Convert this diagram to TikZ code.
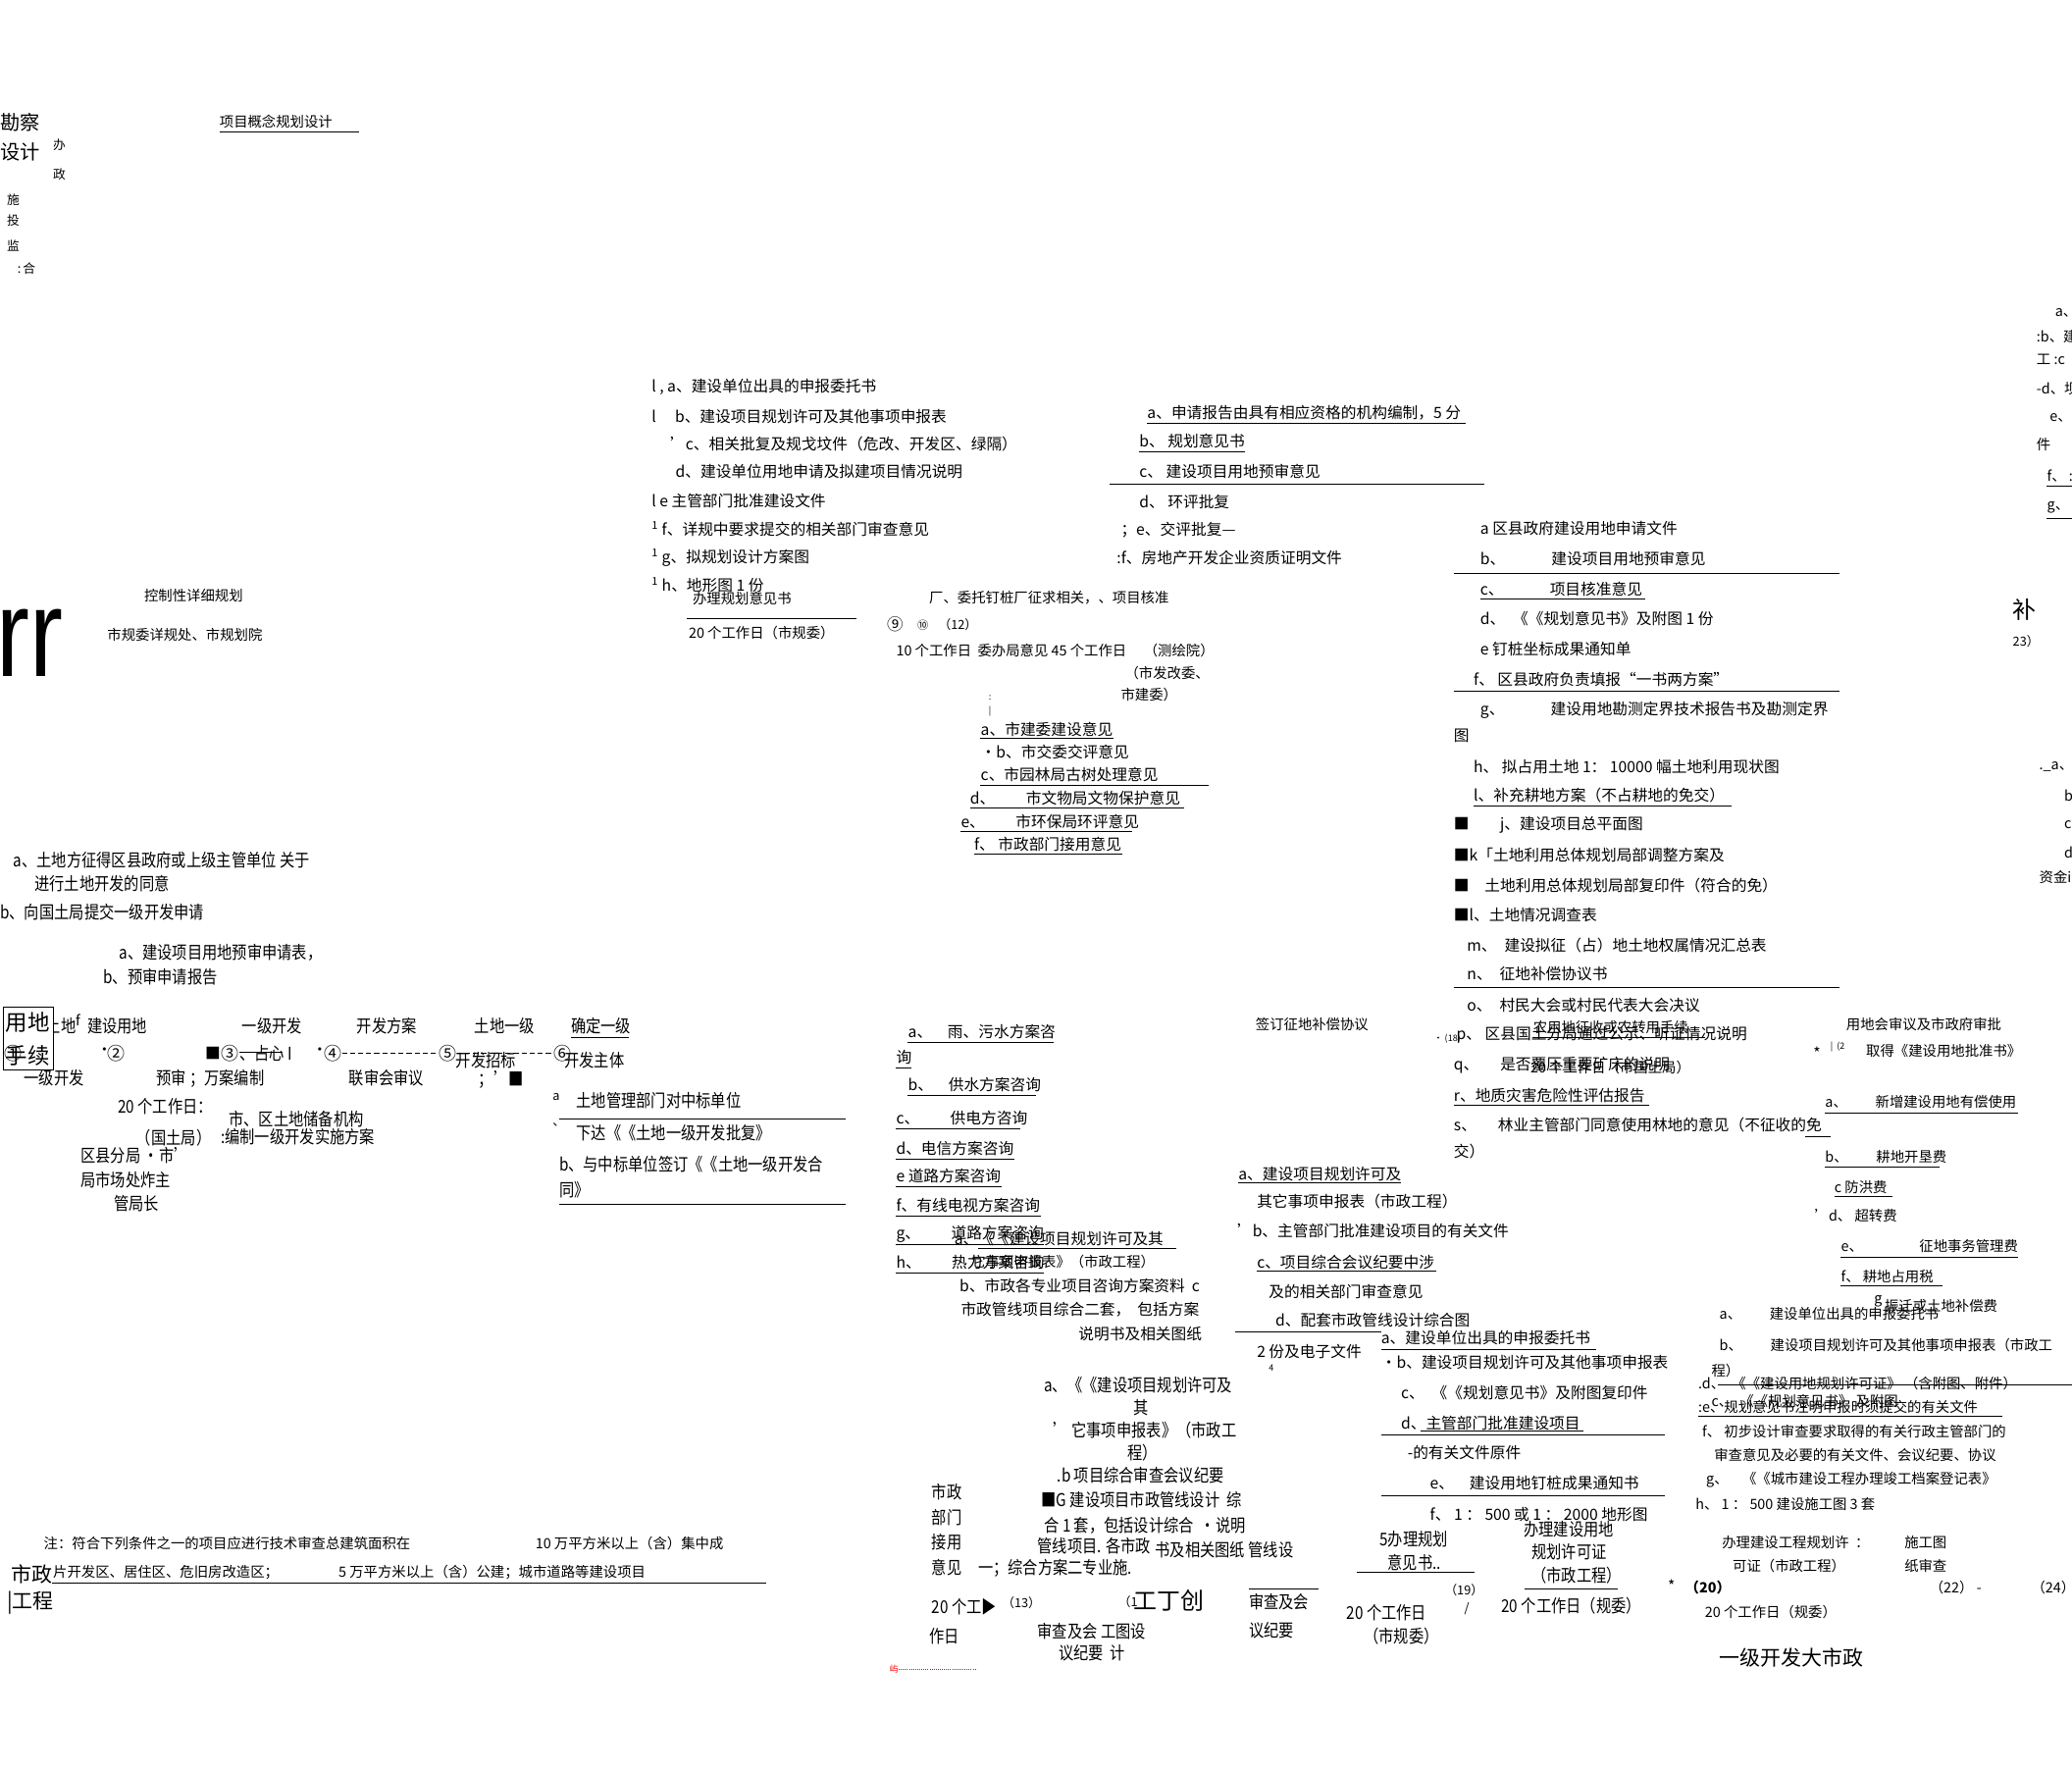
\documentclass[tikz,border=0pt]{standalone}
\usepackage{fontspec}
\setmainfont{Noto Sans CJK SC}
\newfontfamily\latinf{Liberation Sans}
\usetikzlibrary{positioning}

\tikzset{
  txt/.style={anchor=west, inner sep=0pt, font=\fontsize{10.5}{12}\selectfont},
  mid/.style={anchor=west, inner sep=0pt, font=\fontsize{9.6}{11}\selectfont},
  cnd/.style={anchor=west, inner sep=0pt, font=\fontsize{12}{14}\selectfont, xscale=0.85},
  sml/.style={anchor=west, inner sep=0pt, font=\fontsize{8.5}{10}\selectfont},
  tny/.style={anchor=west, inner sep=0pt, font=\fontsize{6}{7}\selectfont},
  big/.style={anchor=west, inner sep=0pt, font=\fontsize{14}{16}\selectfont},
  num/.style={anchor=west, inner sep=0pt, font=\fontsize{12}{14}\selectfont},
  uln/.style={line width=0.6pt},
}

\begin{document}
\begin{tikzpicture}[x=0.9pt, y=-0.9pt]
\useasboundingbox (0,0) rectangle (1568,1339);
\fill[white] (0,0) rectangle (1568,1339);

% 1. 左上角
\node[txt, font=\fontsize{13.5}{15}\selectfont] (kc) at (0,93) {勘察};
\node[txt, font=\fontsize{13.5}{15}\selectfont] (sj) at (0,115) {设计};
\node[sml] (ban) at (40,110) {办};
\node[sml] (zheng) at (40,132) {政};
\node[sml] (shi) at (5,151) {施};
\node[sml] (tou) at (5,167) {投};
\node[sml] (jian) at (5,186) {监};
\node[sml] (he) at (13,203) {:\,合};
\node[mid] (gnsj) at (166,92) {项目概念规划设计};
\draw[uln] (166,100) -- (272,100);

\node[anchor=base west, inner sep=0pt, font=\latinf\fontsize{85}{85}\selectfont, xscale=0.8] (rr) at (-3,512) {rr};
\node[mid] (kzx) at (109,451) {控制性详细规划};
\node[mid] (sgw) at (81,480) {市规委详规处、市规划院};

% 2. 规划意见书
\foreach \x/\y/\t [count=\i] in {
  493/293/{l , a、建设单位出具的申报委托书},
  493/315/{l \quad b、建设项目规划许可及其他事项申报表},
  507/336/{'c、相关批复及规戈坟件（危改、开发区、绿隔）},
  511/357/{d、建设单位用地申请及拟建项目情况说明},
  493/379/{l e 主管部门批准建设文件},
  493/400/{\textsuperscript{1} f、详规中要求提交的相关部门审查意见},
  493/422/{\textsuperscript{1} g、拟规划设计方案图},
  493/443/{\textsuperscript{1} h、地形图 1 份}}
  \node[txt] (gh\i) at (\x,\y) {\t};
\node[mid] (blgh) at (524,453) {办理规划意见书};
\draw[uln] (520,468) -- (648,468);
\node[mid] (gzr9) at (521,479) {20 个工作日（市规委）};

% 3. 项目核准
\foreach \x/\y/\t [count=\i] in {
  868/312/{a、申请报告由具有相应资格的机构编制，5 分},
  862/334/{b、 规划意见书},
  862/357/{c、 建设项目用地预审意见},
  862/380/{d、 环评批复},
  848/401/{；e、交评批复—},
  845/422/{:f、房地产开发企业资质证明文件}}
  \node[txt] (hz\i) at (\x,\y) {\t};
\draw[uln] (868,320) -- (1109,320);
\draw[uln] (862,342) -- (942,342);
\draw[uln] (840,366) -- (1123,366);

\node[mid] (wtdz) at (703,452) {厂、委托钉桩厂征求相关，、项目核准};
\node[num, font=\fontsize{11}{12}\selectfont] (c9) at (671,472) {⑨};
\node[tny, font=\fontsize{7.5}{8}\selectfont] (c10) at (694,473) {⑩};
\node[sml] (c12) at (710,473) {（12）};
\node[mid] (gzr10) at (678,492) {10 个工作日 \ 委办局意见 45 个工作日 \quad （测绘院）};
\node[mid] (fgw1) at (851,509) {（市发改委、};
\node[mid] (fgw2) at (848,526) {市建委）};
\node[tny] (dd1) at (748,528) {:};
\node[tny] (dd2) at (748,538) {|};
\foreach \x/\y/\t [count=\i] in {
  742/552/{a、市建委建设意见},
  742/569/{•b、市交委交评意见},
  742/586/{c、市园林局古树处理意见},
  734/604/{d、\qquad 市文物局文物保护意见},
  727/622/{e、\qquad 市环保局环评意见},
  737/639/{f、 市政部门接用意见}}
  \node[txt] (wb\i) at (\x,\y) {\t};
\draw[uln] (742,559) -- (843,559);
\draw[uln] (742,594) -- (915,594);
\draw[uln] (734,611) -- (896,611);
\draw[uln] (727,629) -- (857,629);
\draw[uln] (737,646) -- (849,646);

% 4. 建设用地批准书材料
\foreach \x/\y/\t [count=\i] in {
  1120/400/{a 区县政府建设用地申请文件},
  1120/423/{b、\qquad\quad 建设项目用地预审意见},
  1120/446/{c、\qquad\quad 项目核准意见},
  1120/468/{d、\enspace 《《规划意见书》及附图 1 份},
  1120/491/{e 钉桩坐标成果通知单},
  1115/514/{f、 区县政府负责填报“一书两方案”},
  1120/537/{g、\qquad\quad 建设用地勘测定界技术报告书及勘测定界},
  1100/557/{图},
  1115/580/{h、 拟占用土地 1： 10000 幅土地利用现状图},
  1115/602/{l、补充耕地方案（不占耕地的免交）},
  1100/624/{■\qquad j、建设项目总平面图},
  1100/647/{■k「土地利用总体规划局部调整方案及},
  1100/670/{■\quad 土地利用总体规划局部复印件（符合的免）},
  1100/692/{■l、土地情况调查表},
  1110/715/{m、\enspace 建设拟征（占）地土地权属情况汇总表},
  1110/737/{n、\enspace 征地补偿协议书},
  1110/761/{o、\enspace 村民大会或村民代表大会决议},
  1102/783/{p、 区县国土分局通过公示、听证情况说明},
  1100/806/{q、\quad\, 是否覆压重要矿床的说明},
  1100/829/{r、地质灾害危险性评估报告},
  1100/851/{s、\quad\, 林业主管部门同意使用林地的意见（不征收的免},
  1100/871/{交）}}
  \node[txt] (pz\i) at (\x,\y) {\t};
\draw[uln] (1100,434) -- (1392,434);
\draw[uln] (1120,453) -- (1245,453);
\draw[uln] (1100,523) -- (1392,523);
\draw[uln] (1115,610) -- (1310,610);
\draw[uln] (1100,747) -- (1392,747);
\draw[uln] (1100,836) -- (1248,836);
\draw[uln] (1366,860) -- (1385,860);
\node[mid] (nyd) at (1160,777) {农用地征收或农转用手续};
\draw[uln] (1160,785) -- (1290,785);
\node[tny] (n18) at (1085,786) {• (18)};
\node[mid] (gtj20) at (1158,808) {20 个工作日（市国土局）};
\node[mid] (qdbc) at (950,775) {签订征地补偿协议};

% 5. 右侧缴费
\node[mid] (hsy) at (1397,775) {用地会审议及市政府审批};
\node[txt] (xing) at (1372,797) {*};
\node[tny] (sup2) at (1385,792) {| \ (2};
\node[mid] (qdpz) at (1412,795) {取得《建设用地批准书》};
\foreach \x/\y/\t [count=\i] in {
  1381/834/{a、\qquad 新增建设用地有偿使用},
  1381/875/{b、\qquad 耕地开垦费},
  1388/898/{c 防洪费},
  1373/920/{'d、 超转费},
  1393/943/{e、\qquad\qquad 征地事务管理费},
  1393/966/{f、 耕地占用税},
  1418/985/{g},
  1426/988/{振迁或土地补偿费}}
  \node[mid] (jf\i) at (\x,\y) {\t};
\draw[uln] (1381,842) -- (1527,842);
\draw[uln] (1381,883) -- (1468,883);
\draw[uln] (1388,905) -- (1432,905);
\draw[uln] (1393,951) -- (1527,951);
\draw[uln] (1393,973) -- (1470,973);

% 6. 工程规划许可证材料
\foreach \x/\y/\t [count=\i] in {
  1301/994/{a、\qquad 建设单位出具的申报委托书},
  1301/1018/{b、\qquad 建设项目规划许可及其他事项申报表（市政工},
  1295/1037/{程）},
  1285/1047/{.d、\enspace 《《建设用地规划许可证》 （含附图、附件）},
  1295/1060/{c、\enspace 《《规划意见书》 及附图},
  1285/1065/{:e、规划意见书注明申报时须提交的有关文件},
  1288/1083/{f、 初步设计审查要求取得的有关行政主管部门的},
  1297/1101/{审查意见及必要的有关文件、会议纪要、协议},
  1291/1120/{g、\quad 《《城市建设工程办理竣工档案登记表》},
  1283/1138/{h、 1 ： 500 建设施工图 3 套}}
  \node[mid] (gc\i) at (\x,\y) {\t};
\draw[uln] (1300,1048) -- (1568,1048);
\draw[uln] (1285,1072) -- (1515,1072);
\node[mid] (blgc1) at (1303,1167) {办理建设工程规划许 \ ：};
\node[mid] (blgc2) at (1311,1185) {可证（市政工程）};
\node[mid] (sgt1) at (1441,1167) {施工图};
\node[mid] (sgt2) at (1441,1185) {纸审查};
\node[txt] (xing2) at (1262,1200) {*};
\node[mid, font=\bfseries\fontsize{9.6}{11}\selectfont] (n20) at (1275,1201) {（20）};
\node[mid] (n22) at (1460,1201) {（22） -};
\node[mid] (n24) at (1537,1201) {（24）};
\node[mid] (gzr20) at (1290,1220) {20 个工作日（规委）};
\node[big] (yjdsz) at (1301,1254) {一级开发大市政};

% 7. 右边缘
\foreach \x/\y/\t [count=\i] in {
  1555/237/{a、}, 1541/255/{:b、建}, 1541/272/{工 :c}, 1541/294/{-d、坝},
  1551/316/{e、}, 1541/336/{件}, 1549/360/{f、 :}, 1549/384/{g、},
  1543/580/{.\_a、}, 1562/602/{b}, 1562/624/{c}, 1562/645/{d}, 1543/664/{资金i}}
  \node[mid] (by\i) at (\x,\y) {\t};
\draw[uln] (1549,368) -- (1568,368);
\draw[uln] (1549,392) -- (1568,392);
\node[big, font=\fontsize{16}{18}\selectfont] (bu) at (1523,461) {补};
\node[sml] (n23) at (1523,485) {23）};

% 8. 一级开发流程
\node[cnd] (tdf1) at (10,651) {a、土地方征得区县政府或上级主管单位 关于};
\node[cnd] (tdf2) at (26,669) {进行土地开发的同意};
\node[cnd] (tdf3) at (0,690) {b、向国土局提交一级开发申请};
\node[cnd] (ys1) at (90,721) {a、建设项目用地预审申请表，};
\node[cnd] (ys2) at (78,739) {b、预审申请报告};

\node[cnd] (sqtd) at (12,776) {申请土地};
\node[mid] (ff) at (57,772) {f};
\node[draw, fill=white, anchor=north west, inner xsep=2pt, inner ysep=3pt, align=left,
      font=\fontsize{15}{23}\selectfont] (ydsx) at (2,762) {用地\\手续};
\node[num] (c1) at (3,797) {①};
\node[cnd] (jsyd) at (66,776) {建设用地};
\node[txt] (dot2) at (73,796) {•};
\node[num] (c2) at (81,797) {②};
\node[cnd] (yjkf) at (183,776) {一级开发};
\node[txt] (sq3) at (155,797) {■};
\node[num] (c3) at (167,797) {③};
\node[cnd] (zx) at (181,797) {、占心 I};
\draw (181,796) -- (214,796);
\node[txt] (dot4) at (236,796) {•};
\node[num] (c4) at (245,797) {④};
\node[cnd] (kffa) at (270,776) {开发方案};
\node[num] (c5) at (332,797) {⑤};
\node[cnd] (tdyj) at (359,776) {土地一级};
\node[cnd] (kfzb) at (345,802) {开发招标};
\node[num] (c6) at (419,797) {⑥};
\node[cnd] (kfzt) at (427,802) {开发主体};
\node[cnd] (qdyj) at (432,776) {确定一级};
\draw[uln] (432,785) -- (476,785);
\draw[dash pattern=on 3.5pt off 2pt] (c4) -- (c5);
\draw[dash pattern=on 3.5pt off 2pt] (c5) -- (c6);
\node[cnd] (yjkf2) at (18,816) {一级开发};
\node[cnd] (ysfa) at (118,816) {预审 ；万案编制};
\node[cnd] (lshy) at (264,816) {联审会审议};
\node[cnd] (dm) at (362,817) {；'■};
\node[cnd] (gzr1) at (89,837) {20 个工作日：};
\node[cnd] (gtj) at (103,861) {（国土局）};
\node[cnd] (cb1) at (173,847) {市、区土地储备机构};
\node[cnd] (cb2) at (167,860) {:编制一级开发实施方案};
\node[cnd] (qx1) at (61,874) {区县分局 •市'};
\node[cnd] (qx2) at (61,893) {局市场处炸主};
\node[cnd] (qx3) at (86,911) {管局长};

\node[sml] (ma) at (418,830) {a};
\node[cnd] (zb1) at (436,833) {土地管理部门对中标单位};
\draw[uln] (423,847) -- (640,847);
\node[sml] (mb) at (418,851) {、};
\node[cnd] (zb2) at (436,857) {下达《《土地一级开发批复》};
\node[cnd] (zb3) at (423,881) {b、与中标单位签订《《土地一级开发合};
\node[cnd] (zb4) at (423,900) {同》};
\draw[uln] (423,911) -- (640,911);

% 9. 市政方案咨询
\foreach \x/\y/\t/\e [count=\i] in {
  687/781/{a、\quad 雨、污水方案咨}/797,
  678/800/{询}/690,
  687/821/{b、\quad 供水方案咨询}/784,
  678/846/{c、\qquad 供电方咨询}/772,
  678/869/{d、电信方案咨询}/768,
  678/890/{e 道路方案咨询}/758,
  678/912/{f、有线电视方案咨询}/788,
  678/934/{g、\qquad 道路方案咨询}/790,
  678/955/{h、\qquad 热力方案咨询}/790}
  {\node[txt] (zx\i) at (\x,\y) {\t};
   \draw[uln] (\x,\y+8) -- (\e,\y+8);}
\node[txt] (xk1) at (722,937) {a、《《建设项目规划许可及其};
\draw[uln] (740,945) -- (890,945);
\node[mid] (xk2) at (735,955) {它事项申报表》（市政工程）};
\node[txt] (xk3) at (726,973) {b、市政各专业项目咨询方案资料 \ c};
\node[txt] (xk4) at (727,991) {市政管线项目综合二套， \ 包括方案};
\node[txt] (xk5) at (816,1009) {说明书及相关图纸};

% 10. 市政工程规划许可
\foreach \x/\y/\t [count=\i] in {
  937/888/{a、建设项目规划许可及},
  951/909/{其它事项申报表（市政工程）},
  936/931/{'b、主管部门批准建设项目的有关文件},
  951/955/{c、项目综合会议纪要中涉},
  960/977/{及的相关部门审查意见},
  965/999/{d、配套市政管线设计综合图},
  951/1023/{2 份及电子文件}}
  \node[txt] (sz\i) at (\x,\y) {\t};
\draw[uln] (937,895) -- (1060,895);
\draw[uln] (951,962) -- (1087,962);
\draw[uln] (935,1008) -- (1045,1008);
\node[tny] (p4) at (960,1035) {4};

\foreach \x/\y/\t [count=\i] in {
  1045/1012/{a、建设单位出具的申报委托书},
  1045/1031/{•b、建设项目规划许可及其他事项申报表},
  1060/1054/{c、\enspace 《《规划意见书》及附图复印件},
  1060/1077/{d、主管部门批准建设项目},
  1065/1099/{-的有关文件原件},
  1082/1122/{e、\quad 建设用地钉桩成果通知书},
  1082/1146/{f、 1 ： 500 或 1 ： 2000 地形图}}
  \node[txt] (yd\i) at (\x,\y) {\t};
\draw[uln] (1045,1021) -- (1208,1021);
\draw[uln] (1075,1083) -- (1198,1083);
\draw[uln] (1045,1086) -- (1260,1086);
\draw[uln] (1045,1132) -- (1260,1132);

\node[cnd] (blj1) at (1153,1157) {办理建设用地};
\node[cnd] (blj2) at (1159,1174) {规划许可证};
\node[cnd] (blj3) at (1159,1192) {（市政工程）};
\draw[uln] (1154,1202) -- (1224,1202);
\node[cnd] (gzr19) at (1136,1215) {20 个工作日（规委）};
\node[cnd] (blyj1) at (1044,1165) {5办理规划};
\node[cnd] (blyj2) at (1050,1182) {意见书..};
\draw[uln] (1027,1190) -- (1116,1190);
\node[sml] (n19) at (1093,1203) {（19）};
\node[sml] (xie) at (1108,1217) {/};
\node[cnd] (gzr18) at (1019,1220) {20 个工作日};
\node[cnd] (sgw18) at (1032,1238) {（市规委）};

% 11. 市政部门接用意见
\foreach \x/\y/\t [count=\i] in {
  790/1048/{a、《《建设项目规划许可及},
  858/1065/{其},
  797/1082/{' 它事项申报表》（市政工},
  853/1099/{程）},
  800/1116/{.b 项目综合审查会议纪要},
  788/1135/{■G 建设项目市政管线设计 \ 综},
  790/1154/{合 1 套，包括设计综合 \ •说明},
  785/1170/{管线项目. 各市政},
  874/1173/{书及相关图纸 管线设},
  740/1187/{一；综合方案二专业施.},
  705/1129/{市政}, 705/1148/{部门}, 705/1167/{接用}, 705/1186/{意见},
  705/1216/{20 个工▶}, 703/1238/{作日},
  785/1234/{审查及会 工图设}, 801/1251/{议纪要 \ 计},
  945/1212/{审查及会}, 945/1234/{议纪要}}
  \node[cnd] (jy\i) at (\x,\y) {\t};
\node[sml] (n13) at (758,1213) {（13）};
\node[sml] (n1) at (846,1212) {（1};
\node[big, font=\fontsize{16}{18}\selectfont] (gdc) at (858,1211) {工丁创};
\draw[uln] (945,1202) -- (998,1202);
\node[tny, red] (rm) at (673,1263) {屿};
\coordinate (rme) at (738,1263);
\draw[red, densely dotted] (rm) -- (rme);

% 12. 注
\node[mid] (zhu1) at (33,1168) {注：符合下列条件之一的项目应进行技术审查总建筑面积在};
\node[mid] (zhu2) at (405,1168) {10 万平方米以上（含）集中成};
\node[mid] (zhu3) at (40,1190) {片开发区、居住区、危旧房改造区；};
\node[mid] (zhu4) at (256,1190) {5 万平方米以上（含）公建；城市道路等建设项目};
\draw[uln] (30,1198) -- (580,1198);
\node[big, fill=white] (szg1) at (8,1191) {市政};
\node[big] (szg2) at (5,1213) {|工程};
\end{tikzpicture}
\end{document}
